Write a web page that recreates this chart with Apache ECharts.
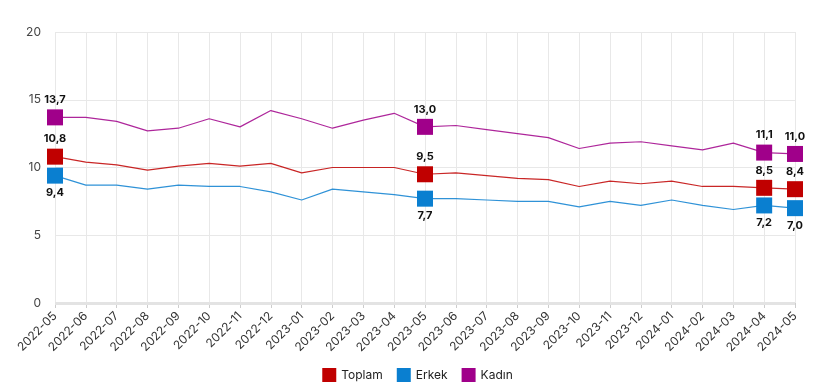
<!DOCTYPE html>
<html><head><meta charset="utf-8">
<script src="https://cdn.jsdelivr.net/npm/echarts@6/dist/echarts.min.js"></script>
<style>html,body{margin:0;padding:0;background:#fff}#c{width:835px;height:391px}</style>
</head><body><div id="c"></div>
<script>
const categories = ["2022-05","2022-06","2022-07","2022-08","2022-09","2022-10","2022-11","2022-12","2023-01","2023-02","2023-03","2023-04","2023-05","2023-06","2023-07","2023-08","2023-09","2023-10","2023-11","2023-12","2024-01","2024-02","2024-03","2024-04","2024-05"];
const toplam = [10.8,10.4,10.2,9.8,10.1,10.3,10.1,10.3,9.6,10.0,10.0,10.0,9.5,9.6,9.4,9.2,9.1,8.6,9.0,8.8,9.0,8.6,8.6,8.5,8.4];
const erkek  = [9.4,8.7,8.7,8.4,8.7,8.6,8.6,8.2,7.6,8.4,8.2,8.0,7.7,7.7,7.6,7.5,7.5,7.1,7.5,7.2,7.6,7.2,6.9,7.2,7.0];
const kadin  = [13.7,13.7,13.4,12.7,12.9,13.6,13.0,14.2,13.6,12.9,13.5,14.0,13.0,13.1,12.8,12.5,12.2,11.4,11.8,11.9,11.6,11.3,11.8,11.1,11.0];
const highlighted = [0,12,23,24];
const yTicks = [0,5,10,15,20];

const font = 'Inter, "Noto Sans", sans-serif';
function build(vals, pos){
  return vals.map((v,i)=>{
    if(highlighted.includes(i)){
      return {value:v, symbol:'rect', symbolSize:16,
        label:{show:true, position:pos, distance:4, formatter:p=>p.value.toFixed(1).replace('.',','),
          fontFamily:font, fontWeight:'bold', fontSize:11, color:'#111'}};
    }
    return {value:v, symbol:'none'};
  });
}
function series(name, vals, color, pos){
  return {name, type:'line', data:build(vals,pos), showAllSymbol:true,
    itemStyle:{color}, lineStyle:{color, width:1.2, opacity:0.85}, emphasis:{disabled:true}, z: 2};
}
const chart = echarts.init(document.getElementById('c'), null, {renderer:'canvas'});
chart.setOption({
  animation:false,
  color:['#c00000','#0a7fd0','#a0008a'],
  grid:{left:55, right:40, top:32, bottom:88, containLabel:false},
  legend:{bottom:4, left:'center', itemWidth:14, itemHeight:14, itemGap:14, icon:'rect',
    textStyle:{fontFamily:font, fontSize:12, color:'#222'},
    data:['Toplam','Erkek','Kadın']},
  xAxis:{type:'category', data:categories, boundaryGap:false,
    axisLine:{show:false}, axisTick:{show:true, alignWithLabel:true, length:5, lineStyle:{color:'#ccc'}},
    axisLabel:{rotate:45, interval:0, fontFamily:font, fontSize:12, color:'#333', margin:11},
    splitLine:{show:true, interval:0, lineStyle:{color:'#e8e8e8'}}},
  yAxis:{type:'value', min:yTicks[0], max:yTicks[yTicks.length-1], interval:5,
    axisLine:{show:false}, axisTick:{show:false},
    axisLabel:{fontFamily:font, fontSize:12, color:'#444', margin:14},
    splitLine:{lineStyle:{color:'#e8e8e8'}}},
  series:[
    series('Toplam', toplam, '#c00000', 'top'),
    series('Erkek', erkek, '#0a7fd0', 'bottom'),
    series('Kadın', kadin, '#a0008a', 'top'),
    {type:'line', data:[], markLine:{silent:true, symbol:'none', label:{show:false},
      lineStyle:{color:'#e3e3e3', width:3, type:'solid'}, data:[{yAxis:0}]}}
  ]
});
</script></body></html>
